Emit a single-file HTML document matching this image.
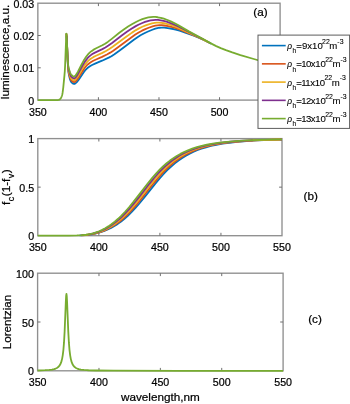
<!DOCTYPE html>
<html lang="en"><head><meta charset="utf-8"><title>Figure</title>
<style>html,body{margin:0;padding:0;background:#fff;}body{width:350px;height:404px;position:relative;overflow:hidden;font-family:"Liberation Sans", sans-serif;}text{stroke:#000;stroke-width:.22px;}text.lg{stroke-width:.1px;}</style>
</head><body>
<svg width="350" height="404" viewBox="0 0 350 404" style="position:absolute;left:0;top:0;display:block" font-family='"Liberation Sans", sans-serif' fill="#000">
<rect width="350" height="404" fill="#fff"/>
<rect x="37.85" y="3.2" width="242.25" height="96.90" fill="none" stroke="#8f8f8f" stroke-width="1.35"/>
<path d="M98.41,100.1v-2.9M98.41,3.2v2.9M158.98,100.1v-2.9M158.98,3.2v2.9M219.54,100.1v-2.9M219.54,3.2v2.9M37.85,67.80h2.9M280.1,67.80h-2.9M37.85,35.50h2.9M280.1,35.50h-2.9" stroke="#707070" stroke-width="1" fill="none"/>
<g fill="none" stroke-width="1.8" stroke-linejoin="round" stroke-linecap="butt">
<path d="M66.31,33.56L66.62,36.06L66.92,42.43L67.53,57.79L67.83,64.10L68.13,68.73L68.43,71.83L68.74,73.88L69.65,77.98L69.95,79.11L70.55,80.77L71.16,81.90L71.77,82.66L72.67,83.42L73.28,83.75L73.88,83.92L74.19,83.94L74.49,83.90L75.10,83.63L76.00,82.91L77.52,81.31L78.73,79.68L83.57,72.38L85.09,70.43L86.60,68.81L88.12,67.49L89.93,66.21L92.05,65.01L95.08,63.60L102.05,60.70L108.71,57.63L111.43,56.18L114.46,54.27L119.31,50.83L125.67,46.01L133.84,39.80L137.48,37.23L140.50,35.33L143.83,33.50L147.47,31.76L152.31,29.74L155.34,28.64L157.46,28.05L159.28,27.73L161.40,27.59L164.12,27.68L167.76,28.06L172.00,28.75L175.63,29.54L179.57,30.67L185.93,32.81L193.80,35.70L199.25,37.93L204.40,40.29L211.36,43.76" stroke="#0072BD"/>
<path d="M66.31,33.56L66.62,36.00L66.92,42.21L67.53,57.14L67.83,63.26L68.13,67.72L68.43,70.64L68.74,72.53L69.65,76.33L69.95,77.41L70.55,78.99L71.16,80.07L71.77,80.81L72.67,81.55L73.28,81.89L73.88,82.07L74.19,82.08L74.49,82.03L75.10,81.72L76.00,80.89L77.52,79.09L78.73,77.30L83.27,69.95L84.79,67.80L86.30,65.98L87.81,64.46L89.33,63.20L91.15,61.96L93.26,60.78L96.60,59.25L102.05,56.88L106.89,54.51L110.22,52.66L113.25,50.71L118.40,47.00L129.91,38.41L135.36,34.59L138.69,32.49L142.02,30.68L145.35,29.11L148.68,27.77L152.62,26.45L155.34,25.72L157.46,25.34L159.58,25.17L161.70,25.21L164.43,25.50L168.06,26.14L172.30,27.13L175.93,28.21L180.17,29.74L190.47,33.91L197.74,37.02L203.49,39.73L209.85,42.96" stroke="#D95319"/>
<path d="M66.31,33.56L66.62,35.93L66.92,41.98L67.53,56.48L67.83,62.42L68.13,66.70L68.43,69.46L68.74,71.18L69.95,75.72L70.55,77.22L71.16,78.24L71.77,78.95L72.67,79.69L73.28,80.03L73.88,80.21L74.19,80.22L74.49,80.16L75.10,79.81L75.70,79.22L77.22,77.29L78.12,75.94L83.27,67.09L84.79,64.80L86.30,62.84L87.81,61.18L89.33,59.80L91.15,58.43L93.26,57.15L95.99,55.80L102.35,52.92L105.98,51.03L109.31,49.05L112.64,46.80L126.88,36.20L132.02,32.63L135.96,30.11L138.99,28.38L142.32,26.75L145.65,25.36L148.68,24.32L152.01,23.42L154.74,22.89L156.86,22.66L158.98,22.62L161.40,22.80L164.12,23.24L167.45,24.02L171.39,25.17L175.02,26.44L178.96,28.07L197.43,36.61L204.09,39.92L207.73,41.82" stroke="#EDB120"/>
<path d="M66.62,35.87L66.92,41.76L67.53,55.83L67.83,61.58L68.13,65.69L68.43,68.27L68.74,69.82L69.34,71.85L69.95,74.02L70.55,75.44L71.16,76.41L71.77,77.09L72.67,77.83L73.28,78.18L73.88,78.36L74.19,78.37L74.49,78.30L74.79,78.14L75.40,77.60L76.31,76.43L77.82,74.16L82.67,65.28L84.48,62.27L86.00,60.11L87.51,58.24L89.03,56.67L90.54,55.36L92.36,54.07L94.48,52.85L98.11,51.10L102.35,49.10L105.38,47.45L108.41,45.54L112.04,42.93L121.73,35.50L126.88,31.77L131.42,28.75L135.36,26.37L138.38,24.74L141.71,23.23L145.05,21.94L147.77,21.09L150.50,20.46L153.22,20.04L155.64,19.88L158.07,19.96L160.79,20.30L163.52,20.87L166.55,21.72L170.48,23.08L174.42,24.69L178.35,26.56L192.89,34.05L202.58,39.01L203.49,39.49" stroke="#7E2F8E"/>
<path d="M37.85,100.10L57.53,100.09L58.74,99.86L59.35,99.65L59.96,99.22L60.56,98.60L61.17,97.65L61.77,96.24L62.08,95.33L62.38,94.14L62.68,92.23L63.29,87.31L64.50,74.80L64.80,71.21L65.10,65.78L66.31,33.56L66.62,35.80L66.92,41.54L67.53,55.17L67.83,60.74L68.13,64.68L68.43,67.08L68.74,68.47L69.34,70.26L69.95,72.33L70.55,73.67L71.16,74.58L71.77,75.24L72.67,75.97L73.28,76.32L73.88,76.50L74.19,76.51L74.49,76.43L74.79,76.25L75.40,75.65L76.31,74.37L77.82,71.90L81.46,64.76L83.57,60.84L85.39,57.88L86.91,55.76L88.42,53.94L89.93,52.41L91.45,51.14L93.26,49.89L95.69,48.53L102.35,45.28L105.07,43.73L107.80,41.90L111.74,38.88L119.31,32.82L124.15,29.22L128.09,26.53L132.33,23.93L135.96,21.94L138.99,20.52L142.32,19.20L145.65,18.12L148.38,17.46L150.80,17.09L153.22,16.92L155.34,16.97L157.76,17.26L160.79,17.87L163.82,18.71L166.85,19.77L170.78,21.42L174.72,23.33L178.96,25.66L189.26,31.60L211.36,43.65L216.21,46.07L220.75,48.11L225.90,50.15L232.26,52.41L240.43,55.03L254.66,59.24L267.38,62.82L272.83,64.20L276.47,64.93L279.80,65.38L280.10,65.41" stroke="#77AC30"/>
</g>
<g font-size="10.67">
<text x="37.85" y="115.60" text-anchor="middle">350</text>
<text x="98.41" y="115.60" text-anchor="middle">400</text>
<text x="158.98" y="115.60" text-anchor="middle">450</text>
<text x="219.54" y="115.60" text-anchor="middle">500</text>
<text x="280.10" y="115.60" text-anchor="middle">550</text>
<text x="34.15" y="104.65" text-anchor="end">0</text>
<text x="34.15" y="72.35" text-anchor="end">0.01</text>
<text x="34.15" y="40.05" text-anchor="end">0.02</text>
<text x="34.15" y="7.75" text-anchor="end">0.03</text>
</g>
<text transform="translate(8.75,51.95) rotate(-90)" font-size="11.73" text-anchor="middle">luminescence,a.u.</text>
<text x="260.4" y="16" font-size="11.73" text-anchor="middle">(a)</text>
<rect x="37.8" y="138.6" width="244.20" height="97.10" fill="none" stroke="#8f8f8f" stroke-width="1.35"/>
<path d="M98.85,235.7v-2.9M98.85,138.6v2.9M159.90,235.7v-2.9M159.90,138.6v2.9M220.95,235.7v-2.9M220.95,138.6v2.9M37.8,187.15h2.9M282.0,187.15h-2.9" stroke="#707070" stroke-width="1" fill="none"/>
<g fill="none" stroke-width="1.8" stroke-linejoin="round" stroke-linecap="butt">
<path d="M79.62,235.46L85.11,235.14L89.39,234.68L93.36,234.04L97.02,233.24L100.68,232.20L104.34,230.92L107.70,229.52L111.06,227.89L114.42,226.02L117.78,223.88L121.13,221.46L124.49,218.76L127.85,215.76L131.51,212.17L135.48,207.92L139.75,202.99L145.55,195.87L155.32,183.59L159.90,178.15L163.87,173.74L167.53,169.97L171.19,166.50L174.86,163.36L178.21,160.74L181.88,158.18L185.54,155.89L189.20,153.87L193.17,151.94L197.14,150.26L201.41,148.70L205.99,147.27L210.88,145.98L216.37,144.78L222.48,143.69L229.19,142.74L237.13,141.86L246.29,141.10L257.27,140.45L271.01,139.89L282.00,139.59" stroke="#0072BD"/>
<path d="M81.15,235.36L86.03,234.99L90.00,234.48L93.66,233.81L97.32,232.90L100.68,231.85L104.04,230.58L107.40,229.07L110.75,227.32L114.11,225.31L117.47,223.02L120.83,220.45L124.19,217.58L127.54,214.42L131.21,210.66L135.17,206.23L139.75,200.77L147.08,191.54L153.79,183.06L158.37,177.61L162.34,173.20L166.00,169.44L169.67,166.00L173.03,163.13L176.38,160.52L179.74,158.16L183.40,155.86L187.07,153.82L191.04,151.89L195.00,150.21L199.28,148.64L203.86,147.21L208.74,145.92L214.23,144.72L220.34,143.64L227.06,142.69L234.99,141.82L244.15,141.07L255.14,140.42L268.87,139.87L282.00,139.52" stroke="#D95319"/>
<path d="M83.59,235.15L87.86,234.69L91.52,234.08L94.88,233.31L98.24,232.33L101.60,231.11L104.95,229.65L108.31,227.93L111.67,225.95L115.03,223.70L118.39,221.15L121.74,218.31L125.10,215.17L128.76,211.42L132.73,207.01L137.31,201.53L144.03,193.04L151.66,183.30L156.24,177.79L160.21,173.33L163.87,169.54L167.53,166.06L170.89,163.16L174.25,160.53L177.60,158.15L181.27,155.84L184.93,153.79L188.59,151.98L192.56,150.27L196.84,148.69L201.41,147.24L206.30,145.94L211.79,144.72L217.90,143.63L224.61,142.68L232.55,141.80L241.71,141.05L252.70,140.40L266.43,139.86L279.86,139.50" stroke="#EDB120"/>
<path d="M88.17,234.54L91.83,233.85L95.19,232.98L98.54,231.88L101.90,230.52L105.26,228.90L108.62,227.01L111.98,224.84L115.33,222.37L118.69,219.61L122.05,216.55L125.41,213.19L129.07,209.21L133.34,204.20L138.84,197.33L149.52,183.56L154.10,177.99L158.07,173.49L161.73,169.65L165.39,166.14L168.75,163.21L172.11,160.55L175.47,158.15L179.13,155.82L182.79,153.76L186.46,151.95L190.43,150.23L194.70,148.64L199.28,147.18L204.16,145.88L209.66,144.67L215.76,143.58L222.48,142.63L230.41,141.76L239.57,141.01L250.56,140.37L252.70,140.27" stroke="#7E2F8E"/>
<path d="M37.80,235.70L68.94,235.65L76.87,235.47L82.06,235.17L86.03,234.74L89.69,234.13L93.05,233.34L96.10,232.41L99.16,231.25L102.21,229.87L105.26,228.25L108.31,226.39L111.37,224.29L114.72,221.69L118.08,218.79L121.44,215.58L125.10,211.75L129.07,207.24L133.65,201.65L140.67,192.58L147.69,183.47L152.27,177.85L156.24,173.33L159.90,169.47L163.26,166.23L166.62,163.27L169.97,160.59L173.33,158.17L176.69,156.00L180.35,153.91L184.01,152.06L187.98,150.32L192.26,148.70L196.84,147.23L201.72,145.91L206.91,144.74L212.71,143.68L219.42,142.70L227.06,141.84L235.91,141.09L246.59,140.43L260.02,139.88L277.73,139.42L282.00,139.34" stroke="#77AC30"/>
</g>
<g font-size="10.67">
<text x="37.80" y="251.20" text-anchor="middle">350</text>
<text x="98.85" y="251.20" text-anchor="middle">400</text>
<text x="159.90" y="251.20" text-anchor="middle">450</text>
<text x="220.95" y="251.20" text-anchor="middle">500</text>
<text x="282.00" y="251.20" text-anchor="middle">550</text>
<text x="34.10" y="240.25" text-anchor="end">0</text>
<text x="34.10" y="191.70" text-anchor="end">0.5</text>
<text x="34.10" y="143.15" text-anchor="end">1</text>
</g>
<text transform="translate(10.1,187.15) rotate(-90)" font-size="11.73" text-anchor="middle">f<tspan font-size="9" dy="3.8" dx="0.5">c</tspan><tspan dy="-3.8" dx="0.4">(1-f</tspan><tspan font-size="9" dy="3.8" dx="0.5">v</tspan><tspan dy="-3.8" dx="0.4">)</tspan></text>
<text x="310.7" y="199.8" font-size="11.73" text-anchor="middle">(b)</text>
<rect x="37.6" y="273.2" width="245.50" height="97.60" fill="none" stroke="#8f8f8f" stroke-width="1.35"/>
<path d="M98.98,370.8v-2.9M98.98,273.2v2.9M160.35,370.8v-2.9M160.35,273.2v2.9M221.73,370.8v-2.9M221.73,273.2v2.9M37.6,322.00h2.9M283.1,322.00h-2.9" stroke="#707070" stroke-width="1" fill="none"/>
<g fill="none" stroke-width="1.8" stroke-linejoin="round" stroke-linecap="butt">
<path d="M37.60,370.48L44.97,370.22L49.26,369.91L52.02,369.54L54.17,369.07L55.71,368.55L56.93,367.95L57.85,367.34L58.77,366.51L59.70,365.35L60.31,364.30L60.92,362.93L61.54,361.11L62.15,358.61L62.76,355.11L63.38,350.07L63.99,342.68L64.61,331.89L65.83,301.49L66.14,296.01L66.45,293.99L66.75,296.01L67.06,301.49L68.29,331.89L68.90,342.68L69.52,350.07L70.13,355.11L70.74,358.61L71.36,361.11L71.97,362.93L72.58,364.30L73.20,365.35L74.12,366.51L75.04,367.34L75.96,367.95L77.19,368.55L78.72,369.07L80.87,369.54L83.94,369.94L88.54,370.26L96.52,370.51L114.01,370.68L178.76,370.78L283.10,370.79" stroke="#77AC30"/>
</g>
<g font-size="10.67">
<text x="37.60" y="386.30" text-anchor="middle">350</text>
<text x="98.98" y="386.30" text-anchor="middle">400</text>
<text x="160.35" y="386.30" text-anchor="middle">450</text>
<text x="221.73" y="386.30" text-anchor="middle">500</text>
<text x="283.10" y="386.30" text-anchor="middle">550</text>
<text x="33.90" y="375.35" text-anchor="end">0</text>
<text x="33.90" y="326.55" text-anchor="end">50</text>
<text x="33.90" y="277.75" text-anchor="end">100</text>
</g>
<text transform="translate(10.9,322.00) rotate(-90)" font-size="11.73" text-anchor="middle">Lorentzian</text>
<text x="315" y="322.6" font-size="11.73" text-anchor="middle">(c)</text>
<text x="160.4" y="400.9" font-size="11.73" text-anchor="middle">wavelength,nm</text>
<rect x="258" y="35.1" width="91.6" height="93.3" fill="#fff" stroke="#5c5c5c" stroke-width="1"/>
<path d="M261.9,45.6H285.7" stroke="#0072BD" stroke-width="1.6" fill="none"/>
<text x="287.3" y="49.00" font-size="9.6" class="lg"><tspan font-style="italic" font-size="8.4">ρ</tspan><tspan font-size="6.6" dy="4.3" dx="0.3">h</tspan><tspan dy="-4.3" dx="0.3">=</tspan><tspan>9x10</tspan><tspan font-size="6.9" dy="-5.2" dx="-0.7">22</tspan><tspan dy="5.2" dx="-0.4">m</tspan><tspan font-size="6.9" dy="-5.2">-3</tspan></text>
<path d="M261.9,63.85H285.7" stroke="#D95319" stroke-width="1.6" fill="none"/>
<text x="287.3" y="67.25" font-size="9.6" class="lg"><tspan font-style="italic" font-size="8.4">ρ</tspan><tspan font-size="6.6" dy="4.3" dx="0.3">h</tspan><tspan dy="-4.3" dx="0.3">=</tspan><tspan dx="-0.8 -0.6 -0.4 -0.3 -0.2">10x10</tspan><tspan font-size="6.9" dy="-5.2" dx="-0.7">22</tspan><tspan dy="5.2" dx="-0.4">m</tspan><tspan font-size="6.9" dy="-5.2">-3</tspan></text>
<path d="M261.9,82.1H285.7" stroke="#EDB120" stroke-width="1.6" fill="none"/>
<text x="287.3" y="85.50" font-size="9.6" class="lg"><tspan font-style="italic" font-size="8.4">ρ</tspan><tspan font-size="6.6" dy="4.3" dx="0.3">h</tspan><tspan dy="-4.3" dx="0.3">=</tspan><tspan dx="-0.8 -0.6 -0.4 -0.3 -0.2">11x10</tspan><tspan font-size="6.9" dy="-5.2" dx="-0.7">22</tspan><tspan dy="5.2" dx="-0.4">m</tspan><tspan font-size="6.9" dy="-5.2">-3</tspan></text>
<path d="M261.9,100.35H285.7" stroke="#7E2F8E" stroke-width="1.6" fill="none"/>
<text x="287.3" y="103.75" font-size="9.6" class="lg"><tspan font-style="italic" font-size="8.4">ρ</tspan><tspan font-size="6.6" dy="4.3" dx="0.3">h</tspan><tspan dy="-4.3" dx="0.3">=</tspan><tspan dx="-0.8 -0.6 -0.4 -0.3 -0.2">12x10</tspan><tspan font-size="6.9" dy="-5.2" dx="-0.7">22</tspan><tspan dy="5.2" dx="-0.4">m</tspan><tspan font-size="6.9" dy="-5.2">-3</tspan></text>
<path d="M261.9,118.6H285.7" stroke="#77AC30" stroke-width="1.6" fill="none"/>
<text x="287.3" y="122.00" font-size="9.6" class="lg"><tspan font-style="italic" font-size="8.4">ρ</tspan><tspan font-size="6.6" dy="4.3" dx="0.3">h</tspan><tspan dy="-4.3" dx="0.3">=</tspan><tspan dx="-0.8 -0.6 -0.4 -0.3 -0.2">13x10</tspan><tspan font-size="6.9" dy="-5.2" dx="-0.7">22</tspan><tspan dy="5.2" dx="-0.4">m</tspan><tspan font-size="6.9" dy="-5.2">-3</tspan></text>
</svg>
</body></html>
